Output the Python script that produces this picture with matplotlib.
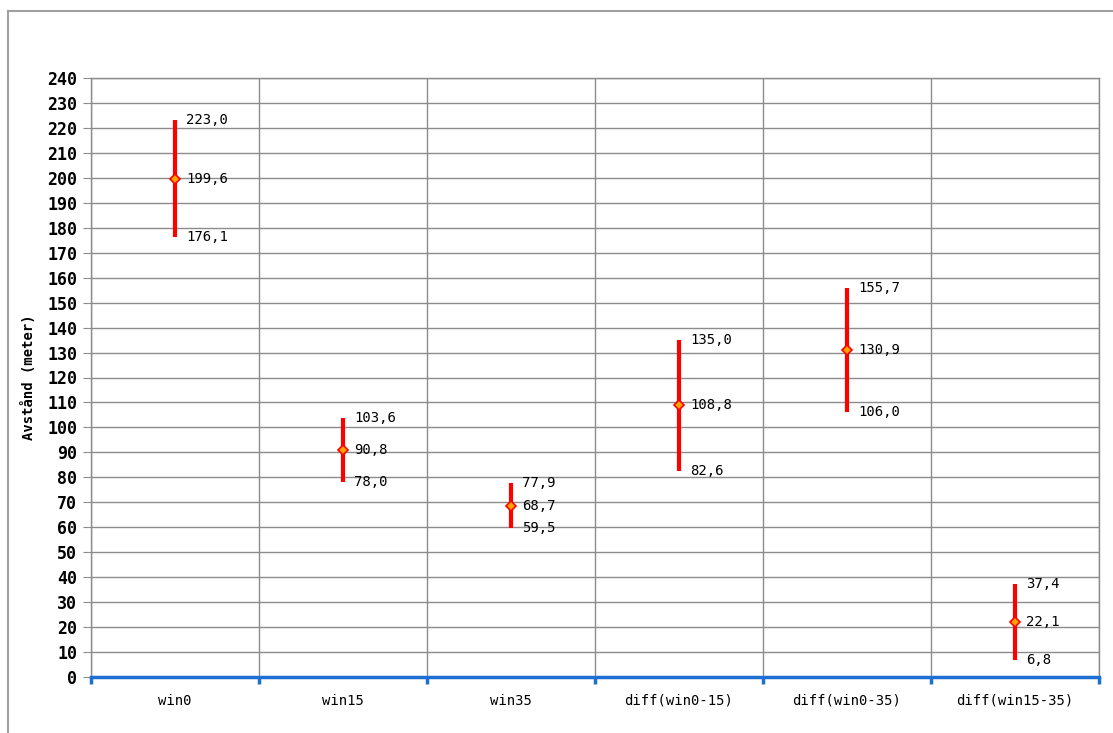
import matplotlib
matplotlib.use("Agg")
import matplotlib.pyplot as plt
from matplotlib.lines import Line2D
from matplotlib.ticker import MultipleLocator, FixedLocator

plt.rcParams["font.family"] = ["DejaVu Sans Mono"]

categories = ["win0", "win15", "win35", "diff(win0-15)", "diff(win0-35)", "diff(win15-35)"]
low = [176.1, 78.0, 59.5, 82.6, 106.0, 6.8]
mid = [199.6, 90.8, 68.7, 108.8, 130.9, 22.1]
high = [223.0, 103.6, 77.9, 135.0, 155.7, 37.4]

GRID = "#8c8c8c"
BLUE = "#1f6fd2"
RED = "#ff0000"

fig = plt.figure(figsize=(11.13, 7.33), dpi=100)
ax = fig.add_axes([91 / 1113, 56 / 733, 1008 / 1113, 599 / 733])

xs = list(range(len(categories)))
ax.vlines(xs, low, high, color=RED, lw=3, zorder=3)
ax.plot(xs, mid, ls="none", marker="D", ms=5.5, mfc="#ffa500", mec=RED, mew=1.2, zorder=4)

for x, lo, m, hi in zip(xs, low, mid, high):
    for v in (lo, m, hi):
        ax.annotate(f"{v:.1f}".replace(".", ","), (x, v), xytext=(11, 0),
                    textcoords="offset pixels", va="center", ha="left", fontsize=10)

ax.set_xlim(-0.5, len(categories) - 0.5)
ax.set_ylim(0, 240)
ax.yaxis.set_major_locator(MultipleLocator(10))
ax.set_xticks(xs)
ax.set_xticklabels(categories, fontsize=10)
ax.xaxis.set_minor_locator(FixedLocator([k - 0.5 for k in range(len(categories) + 1)]))

ax.grid(True, axis="y", which="major", color=GRID, lw=1)
ax.grid(True, axis="x", which="minor", color=GRID, lw=1)
ax.set_axisbelow(True)

ax.tick_params(axis="x", which="major", length=0, pad=12)
ax.tick_params(axis="x", which="minor", length=5, width=2.5, color=BLUE)
ax.tick_params(axis="y", length=6, color=GRID, labelsize=12, pad=4)
for t in ax.get_yticklabels():
    t.set_fontweight("bold")

for side in ("top", "right", "left"):
    ax.spines[side].set_color(GRID)
    ax.spines[side].set_linewidth(1)
ax.spines["bottom"].set_color(BLUE)
ax.spines["bottom"].set_linewidth(2.5)
ax.spines["bottom"].set_zorder(5)

ax.set_ylabel("Avstånd (meter)", fontsize=10, fontweight="bold", labelpad=8)

# outer chart frame (left and top edges)
fig.add_artist(Line2D([7.5 / 1113, 7.5 / 1113], [0, 1 - 11 / 733], color="#a0a0a0", lw=1.5))
fig.add_artist(Line2D([7.5 / 1113, 1], [1 - 11 / 733, 1 - 11 / 733], color="#a0a0a0", lw=1.5))

fig.savefig("out.png", dpi=100)
